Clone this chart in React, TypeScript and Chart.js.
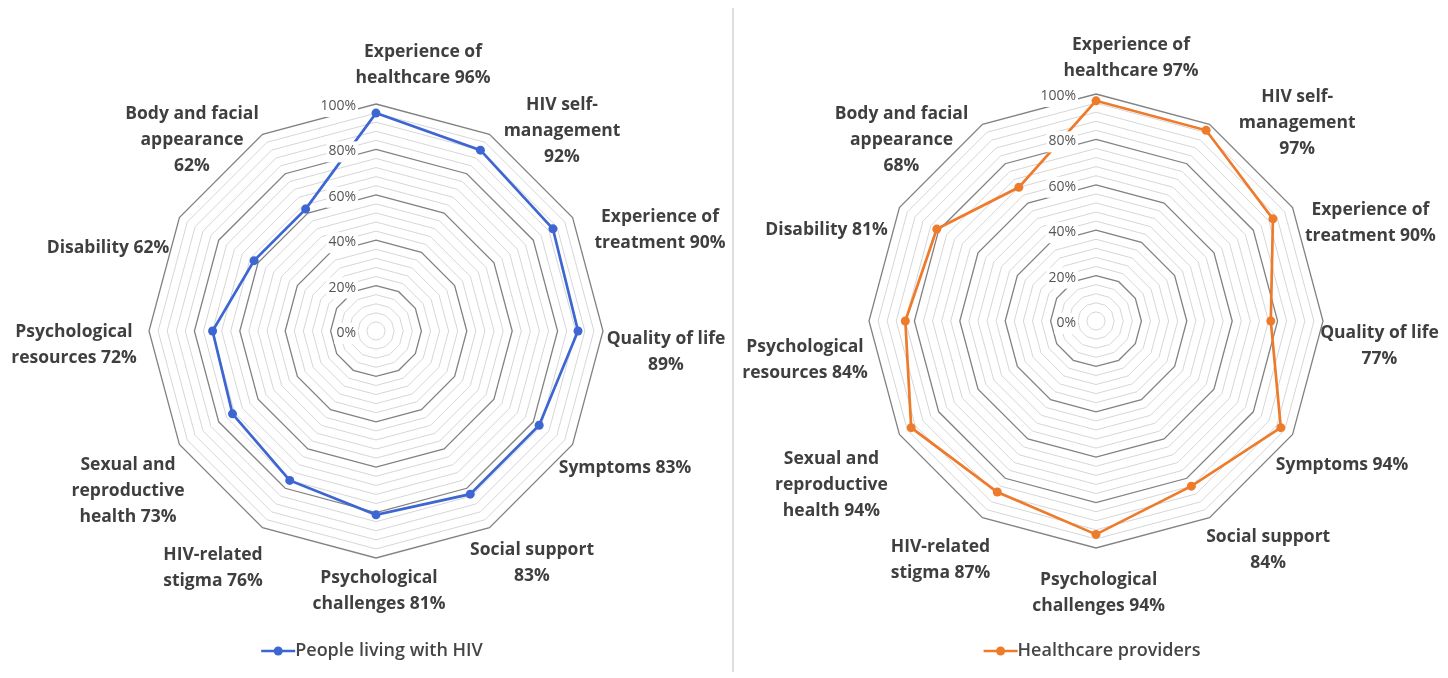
import React, { useEffect, useRef } from "react";
import { Chart, registerables } from "chart.js";

Chart.register(...registerables);

// ---------- data ----------
const CATEGORY_LINES: string[][] = [
  ["Experience of", "healthcare"],
  ["HIV self-", "management"],
  ["Experience of", "treatment"],
  ["Quality of life"],
  ["Symptoms"],
  ["Social support"],
  ["Psychological", "challenges"],
  ["HIV-related", "stigma"],
  ["Sexual and", "reproductive", "health"],
  ["Psychological", "resources"],
  ["Disability"],
  ["Body and facial", "appearance"],
];
const CATEGORIES = CATEGORY_LINES.map((l) => l.join(" ").replace("- ", "-"));
const VALUE_ON_OWN_LINE = [false, true, false, true, false, true, false, false, false, false, false, true];

const PLWH_VALUES = [96, 92, 90, 89, 83, 83, 81, 76, 73, 72, 62, 62];
const HCP_VALUES = [97, 97, 90, 77, 94, 84, 94, 87, 94, 84, 81, 68];

const TICK_VALUES = [0, 20, 40, 60, 80, 100];
const TICK_LABELS = ["0%", "20%", "40%", "60%", "80%", "100%"];

const SERIES_NAMES = ["People living with HIV", "Healthcare providers"];
const SERIES_COLORS = ["#3d66d2", "#ee7b2c"];

// ---------- layout (label offsets from the outer vertex, px) ----------
const LABEL_OFFSETS_LEFT: [number, number][] = [
  [47, -39], [72.5, -3.4], [87.4, 13], [63, 21.5], [52.4, 23.5], [42.5, 35.4],
  [3, 33.5], [-49.5, 40.5], [-51.4, 47], [-75, 14.5], [-71.4, 30.2], [-70.5, 6],
];
const LABEL_OFFSETS_RIGHT: [number, number][] = [
  [35, -36], [87.7, -1.3], [77.8, 15.8], [56.5, 25], [49.5, 31], [58.7, 32.8],
  [2.6, 45], [-42, 42.5], [-68, 50.5], [-64, 38.7], [-72.8, 22.7], [-81, 15.5],
];

const FONT_FAMILY = '"Open Sans", "Liberation Sans", sans-serif';
const LABEL_FONT = `700 17.5px ${FONT_FAMILY}`;
const TICK_FONT = `400 14px ${FONT_FAMILY}`;
const LEGEND_FONT = `600 18px ${FONT_FAMILY}`;
const LABEL_COLOR = "#3f3f3f";
const TICK_COLOR = "#555555";
const MAJOR_GRID = "#828282";
const MINOR_GRID = "#d6d6d6";

function labelLines(i: number, value: number): string[] {
  const lines = CATEGORY_LINES[i].slice();
  const v = `${value}%`;
  if (VALUE_ON_OWN_LINE[i]) lines.push(v);
  else lines[lines.length - 1] = `${lines[lines.length - 1]} ${v}`;
  return lines;
}

function makeDecorPlugin(
  values: number[],
  offsets: [number, number][],
  name: string,
  color: string
) {
  return {
    id: "radarDecor",
    afterDatasetsDraw(chart: any) {
      const scale = chart.scales.r;
      const ctx: CanvasRenderingContext2D = chart.ctx;
      ctx.save();

      // tick labels with white backdrop
      ctx.font = TICK_FONT;
      ctx.textAlign = "right";
      ctx.textBaseline = "middle";
      TICK_VALUES.forEach((v, i) => {
        const d = scale.getDistanceFromCenterForValue(v);
        const x = scale.xCenter - 20;
        const y = scale.yCenter - d + 2;
        const w = ctx.measureText(TICK_LABELS[i]).width;
        ctx.fillStyle = "#ffffff";
        ctx.fillRect(x - w - 2, y - 10, w + 4, 21);
        ctx.fillStyle = TICK_COLOR;
        ctx.fillText(TICK_LABELS[i], x, y);
      });

      // category labels
      ctx.font = LABEL_FONT;
      ctx.textAlign = "center";
      ctx.fillStyle = LABEL_COLOR;
      const lh = 26;
      values.forEach((val, i) => {
        const lines = labelLines(i, val);
        const p = scale.getPointPosition(i, scale.drawingArea);
        const cx = p.x + offsets[i][0];
        const cy = p.y + offsets[i][1];
        const n = lines.length;
        lines.forEach((t, k) => {
          ctx.fillText(t, cx, cy + (k - (n - 1) / 2) * lh);
        });
      });

      // legend
      ctx.font = LEGEND_FONT;
      const tw = ctx.measureText(name).width;
      const lineW = 34;
      const total = lineW + tw;
      const lx = scale.xCenter - 4 - total / 2;
      const ly = chart.height - 27;
      ctx.strokeStyle = color;
      ctx.lineWidth = 2.5;
      ctx.beginPath();
      ctx.moveTo(lx, ly);
      ctx.lineTo(lx + lineW, ly);
      ctx.stroke();
      ctx.fillStyle = color;
      ctx.beginPath();
      ctx.arc(lx + lineW / 2, ly, 4.5, 0, Math.PI * 2);
      ctx.fill();
      ctx.fillStyle = "#454545";
      ctx.textAlign = "left";
      ctx.fillText(name, lx + lineW, ly);

      ctx.restore();
    },
  };
}

function RadarPanel(props: {
  values: number[];
  name: string;
  color: string;
  offsets: [number, number][];
  width: number;
  padding: { left: number; right: number; top: number; bottom: number };
}) {
  const ref = useRef<HTMLCanvasElement | null>(null);
  useEffect(() => {
    if (!ref.current) return;
    const chart = new Chart(ref.current, {
      type: "radar",
      data: {
        labels: CATEGORIES,
        datasets: [
          {
            label: props.name,
            data: props.values,
            borderColor: props.color,
            backgroundColor: props.color,
            pointBackgroundColor: props.color,
            pointBorderColor: props.color,
            pointBorderWidth: 0,
            pointRadius: 4.5,
            borderWidth: 2.7,
            fill: false,
            tension: 0,
          },
        ],
      },
      options: {
        responsive: false,
        animation: false,
        layout: { padding: props.padding },
        plugins: { legend: { display: false }, tooltip: { enabled: false }, title: { display: false } },
        scales: {
          r: {
            min: 0,
            max: 100,
            ticks: { stepSize: 4, display: false },
            angleLines: { display: false },
            pointLabels: { display: false },
            grid: {
              color: (c: any) => (c.tick && c.tick.value % 20 === 0 ? MAJOR_GRID : MINOR_GRID),
              lineWidth: (c: any) => (c.tick && c.tick.value % 20 === 0 ? 1.3 : 1),
            },
          },
        },
      },
      plugins: [makeDecorPlugin(props.values, props.offsets, props.name, props.color)],
    } as any);
    return () => chart.destroy();
  }, []);
  return <canvas ref={ref} width={props.width} height={678} style={{ display: "block" }} />;
}

export default function App() {
  return (
    <div
      style={{
        position: "fixed",
        left: 0,
        top: 0,
        width: 1448,
        height: 678,
        background: "#ffffff",
        overflow: "hidden",
      }}
    >
      <div style={{ position: "absolute", left: 0, top: 0 }}>
        <RadarPanel
          values={PLWH_VALUES}
          name={SERIES_NAMES[0]}
          color={SERIES_COLORS[0]}
          offsets={LABEL_OFFSETS_LEFT}
          width={732}
          padding={{ left: 149, right: 129, top: 104, bottom: 120 }}
        />
      </div>
      <div
        style={{
          position: "absolute",
          left: 732,
          top: 8,
          width: 2,
          height: 664,
          background: "#dedede",
        }}
      />
      <div style={{ position: "absolute", left: 734, top: 0 }}>
        <RadarPanel
          values={HCP_VALUES}
          name={SERIES_NAMES[1]}
          color={SERIES_COLORS[1]}
          offsets={LABEL_OFFSETS_RIGHT}
          width={714}
          padding={{ left: 135, right: 125, top: 94, bottom: 130 }}
        />
      </div>
    </div>
  );
}
